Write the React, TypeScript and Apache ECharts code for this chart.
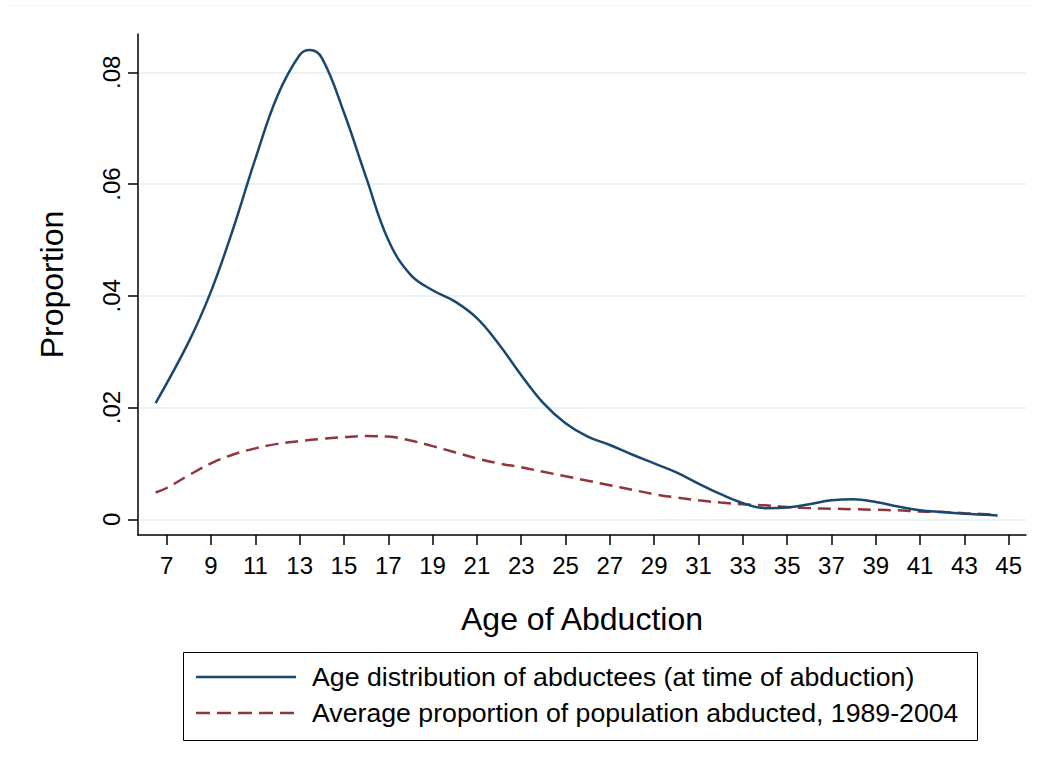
import React, { useEffect, useRef } from "react";
import * as echarts from "echarts";

const ages = [6.5, 8, 9, 10, 11, 12, 13, 13.45, 14, 15, 16, 17, 18, 19, 20, 21, 22, 23, 24, 25, 26, 27, 28, 29, 30, 31, 32, 33, 34, 35, 36, 37, 38, 39, 40, 41, 42, 43, 44, 44.5];
const abducteeDist = [0.0208, 0.0318, 0.0408, 0.052, 0.0645, 0.0758, 0.0831, 0.084, 0.0826, 0.0728, 0.0612, 0.05, 0.0438, 0.041, 0.039, 0.036, 0.0313, 0.0258, 0.0208, 0.0172, 0.0148, 0.0133, 0.0116, 0.01, 0.0084, 0.0064, 0.0045, 0.0029, 0.002, 0.0021, 0.0027, 0.0034, 0.0036, 0.0031, 0.0023, 0.0016, 0.0013, 0.001, 0.0008, 0.0007];

const agesPop = [6.5, 7, 8, 9, 10, 11, 12, 13, 14, 15, 16, 17, 18, 19, 20, 21, 22, 23, 24, 25, 26, 27, 28, 29, 30, 31, 32, 33, 34, 35, 36, 37, 38, 39, 40, 41, 42, 43, 44, 44.5];
const popAbducted = [0.0048, 0.0056, 0.0079, 0.01, 0.0116, 0.0127, 0.0135, 0.014, 0.0144, 0.0147, 0.0149, 0.0148, 0.0141, 0.0131, 0.012, 0.0109, 0.01, 0.0093, 0.0085, 0.0077, 0.0069, 0.0061, 0.0053, 0.0045, 0.0039, 0.0034, 0.003, 0.0027, 0.0025, 0.0022, 0.002, 0.0019, 0.0018, 0.0017, 0.0016, 0.0014, 0.0013, 0.0011, 0.0009, 0.0008];

const xTicks = [7, 9, 11, 13, 15, 17, 19, 21, 23, 25, 27, 29, 31, 33, 35, 37, 39, 41, 43, 45];
const yTicks = [0, 0.02, 0.04, 0.06, 0.08];
const yTickLabels = ["0", ".02", ".04", ".06", ".08"];

const seriesNames = [
  "Age distribution of abductees (at time of abduction)",
  "Average proportion of population abducted, 1989-2004",
];

const BLUE = "#1a476f";
const RED = "#90353b";
const FONT = "Liberation Sans, Arial, Helvetica, sans-serif";

export default function App() {
  const ref = useRef<HTMLDivElement>(null);
  useEffect(() => {
    document.body.style.margin = "0";
    const chart = echarts.init(ref.current!, null, { renderer: "svg" });
    chart.setOption({
      animation: false,
      backgroundColor: "#ffffff",
      textStyle: { fontFamily: FONT },
      grid: { left: 138, right: 14, top: 34, bottom: 235, containLabel: false },
      xAxis: {
        type: "value",
        min: 5.705,
        max: 45.78,
        name: "Age of Abduction",
        nameLocation: "middle",
        nameGap: 68,
        nameTextStyle: { fontSize: 32, color: "#000", fontFamily: FONT },
        axisLine: { show: true, onZero: false, lineStyle: { color: "#000", width: 1.5 } },
        axisTick: { show: true, length: 10, customValues: xTicks, lineStyle: { color: "#000", width: 1.5 } },
        axisLabel: { customValues: xTicks, fontSize: 24, color: "#000", margin: 18, fontFamily: FONT },
        splitLine: { show: false },
      },
      yAxis: {
        type: "value",
        min: -0.00281,
        max: 0.08686,
        name: "Proportion",
        nameLocation: "middle",
        nameRotate: 90,
        nameGap: 70,
        nameTextStyle: { fontSize: 32, color: "#000", fontFamily: FONT },
        axisLine: { show: true, lineStyle: { color: "#000", width: 1.5 } },
        axisTick: { show: true, length: 10, customValues: yTicks, lineStyle: { color: "#000", width: 1.5 } },
        axisLabel: {
          customValues: yTicks,
          rotate: 90,
          fontSize: 24,
          color: "#000",
          margin: 15,
          fontFamily: FONT,
          formatter: (v: number) => {
            const i = yTicks.findIndex((t) => Math.abs(t - v) < 1e-9);
            return i >= 0 ? yTickLabels[i] : "";
          },
        },
        splitLine: { show: true, lineStyle: { color: "#eaf2f3", width: 2 } },
      },
      series: [
        {
          name: seriesNames[0],
          type: "line",
          data: ages.map((a, i) => [a, abducteeDist[i]]),
          smooth: 0.4,
          showSymbol: false,
          lineStyle: { color: BLUE, width: 2.5 },
          z: 3,
        },
        {
          name: seriesNames[1],
          type: "line",
          data: agesPop.map((a, i) => [a, popAbducted[i]]),
          smooth: 0.4,
          showSymbol: false,
          lineStyle: { color: RED, width: 2.5, type: [13, 7] },
          z: 2,
        },
      ],
      graphic: [
        { type: "line", shape: { x1: 7, y1: 6, x2: 1033, y2: 6 }, style: { stroke: "#eef2f3", lineWidth: 1 } },
        { type: "rect", shape: { x: 183.5, y: 652.5, width: 794, height: 88 }, style: { fill: "#fff", stroke: "#000", lineWidth: 1 } },
        { type: "line", shape: { x1: 196, y1: 677, x2: 296, y2: 677 }, style: { stroke: BLUE, lineWidth: 2.5 } },
        { type: "line", shape: { x1: 196, y1: 713, x2: 296, y2: 713 }, style: { stroke: RED, lineWidth: 2.5, lineDash: [14, 7] } },
        { type: "text", x: 312, y: 677, style: { text: seriesNames[0], fontSize: 26.7, fill: "#000", fontFamily: FONT, verticalAlign: "middle", align: "left" } },
        { type: "text", x: 312, y: 713, style: { text: seriesNames[1], fontSize: 26.7, fill: "#000", fontFamily: FONT, verticalAlign: "middle", align: "left" } },
      ],
    });
    return () => chart.dispose();
  }, []);
  return <div ref={ref} style={{ width: 1040, height: 770 }} />;
}
